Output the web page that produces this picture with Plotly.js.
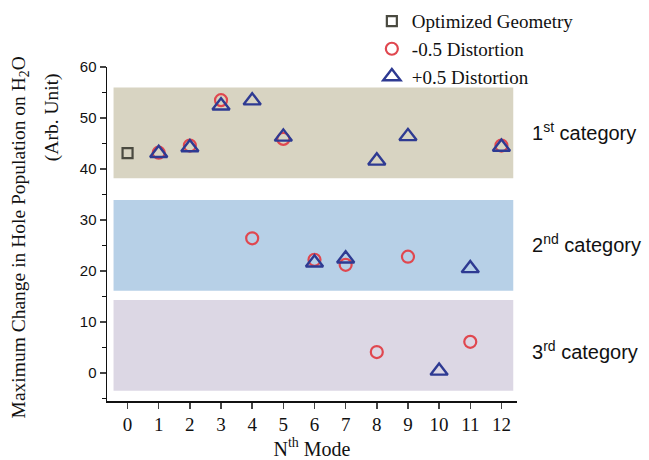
<!DOCTYPE html>
<html><head><meta charset="utf-8">
<script src="https://cdn.plot.ly/plotly-3.0.1.min.js"></script>
<style>body{margin:0;background:#fff}#c{width:649px;height:460px}</style>
</head><body><div id="c"></div>
<script>
const modes = [0,1,2,3,4,5,6,7,8,9,10,11,12];
const optX = [0];
const optY = [43.1];
const minusX = [1,2,3,4,5,6,7,8,9,11,12];
const minusY = [43.2,44.6,53.5,26.4,45.9,22.2,21.2,4.1,22.8,6.1,44.6];
const plusX = [1,2,3,4,5,6,7,8,9,10,11,12];
const plusY = [43.1,44.2,52.4,53.4,46.3,21.6,22.4,41.6,46.4,0.4,20.5,44.3];
const bandNames = ['1<sup>st</sup> category','2<sup>nd</sup> category','3<sup>rd</sup> category'];
const bandLo = [38.2,16.1,-3.5];
const bandHi = [56.0,33.9,14.3];
const bandLabelY = [47.4,25.3,4.5];
const bandColors = ['#d8d4c2','#b7d0e7','#dcd7e4'];

const serif = 'Liberation Serif, Times New Roman, serif';
const sans = 'Liberation Sans, Arial, sans-serif';

const traces = [
  {x: optX, y: optY, mode:'markers', type:'scatter', name:'Optimized Geometry',
   marker:{symbol:'square-open', size:10, color:'#4a4a40', line:{width:2.2}}},
  {x: minusX, y: minusY, mode:'markers', type:'scatter', name:'-0.5 Distortion',
   marker:{symbol:'circle-open', size:12, color:'#e0474f', line:{width:2.2}}},
  {x: plusX, y: plusY, mode:'markers', type:'scatter', name:'+0.5 Distortion',
   marker:{symbol:'triangle-up-open', size:15, color:'#2e3a92', line:{width:2.4}}}
];

const shapes = bandLo.map((lo,i)=>({type:'rect', xref:'x', yref:'y', x0:-0.45, x1:12.38, y0:lo, y1:bandHi[i],
  fillcolor:bandColors[i], line:{width:0}, layer:'below'}));

const annotations = bandNames.map((t,i)=>({text:t, xref:'paper', yref:'y', x:1.032, y:bandLabelY[i],
  xanchor:'left', yanchor:'middle', showarrow:false, font:{family:sans, size:20, color:'#111'}}));
annotations.push({text:'Maximum Change in Hole Population on H<sub>2</sub>O', xref:'paper', yref:'paper',
  x:-0.212, y:0.49, textangle:-90, showarrow:false, xanchor:'center', yanchor:'middle',
  font:{family:serif, size:19.5, color:'#111'}});
annotations.push({text:'(Arb. Unit)', xref:'paper', yref:'paper',
  x:-0.134, y:0.85, textangle:-90, showarrow:false, xanchor:'center', yanchor:'middle',
  font:{family:serif, size:19.5, color:'#111'}});

const layout = {
  width:649, height:460,
  margin:{l:107, r:132, t:67, b:59, autoexpand:false},
  paper_bgcolor:'#fff', plot_bgcolor:'#fff',
  showlegend:true,
  legend:{x:0.646, y:1.194, xanchor:'left', yanchor:'top', font:{family:serif, size:19, color:'#111'},
    bgcolor:'rgba(0,0,0,0)', tracegroupgap:0, itemwidth:30},
  xaxis:{range:[-0.66,12.5], tickvals:modes, ticktext:modes.map(String), ticks:'outside', ticklen:6,
    tickwidth:1.5, showline:true, linecolor:'#111', linewidth:1.5, showgrid:false, zeroline:false,
    tickfont:{family:serif, size:19, color:'#111'},
    title:{text:'N<sup>th</sup> Mode', font:{family:serif, size:20, color:'#111'}, standoff:4}},
  yaxis:{range:[-5.5,60], tickvals:[0,10,20,30,40,50,60], ticks:'outside', ticklen:6, tickwidth:1.5,
    minor:{tickvals:[-5,5,15,25,35,45,55], ticks:'outside', ticklen:4, tickwidth:1.5, tickcolor:'#111'},
    showline:true, linecolor:'#111', linewidth:1.5, showgrid:false, zeroline:false,
    tickfont:{family:sans, size:15, color:'#111'}},
  shapes: shapes,
  annotations: annotations
};
Plotly.newPlot('c', traces, layout, {displayModeBar:false, staticPlot:true});
</script></body></html>
